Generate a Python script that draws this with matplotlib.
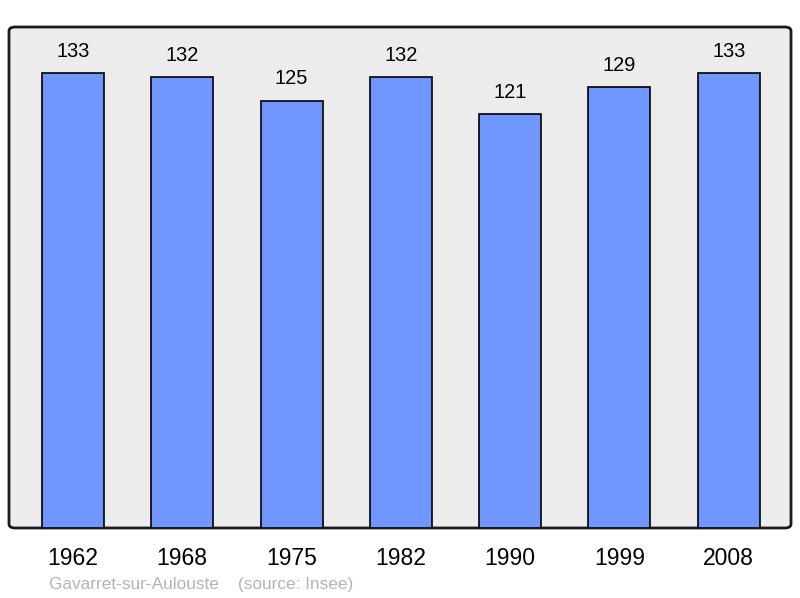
import matplotlib.pyplot as plt
from matplotlib.patches import FancyBboxPatch

years = ['1962', '1968', '1975', '1982', '1990', '1999', '2008']
population = [133, 132, 125, 132, 121, 129, 133]

plt.rcParams['font.family'] = ['Liberation Sans', 'DejaVu Sans']

fig = plt.figure(figsize=(8, 5.98), dpi=100)
ax = fig.add_axes([9 / 800, 70 / 598, 782 / 800, 501 / 598])
ax.set_facecolor('none')

# rounded frame behind the bars
frame = FancyBboxPatch((0, 0), 1, 1, boxstyle='round,pad=0,rounding_size=0.008',
                       transform=ax.transAxes, facecolor='#ececec',
                       edgecolor='#1a1a1a', linewidth=2, zorder=0, clip_on=False)
ax.add_patch(frame)

x = range(len(years))
ax.bar(x, population, width=0.567, color='#7096ff', edgecolor='black',
       linewidth=1.2, zorder=2)
for xi, v in zip(x, population):
    ax.text(xi, v + 6.4, str(v), ha='center', va='center', fontsize=14.4, zorder=3)

ax.set_xlim(-0.585, 6.57)
ax.set_ylim(0, 146.6)
for s in ax.spines.values():
    s.set_visible(False)
ax.set_yticks([])
ax.set_xticks(list(x))
ax.set_xticklabels(years, fontsize=16.5)
ax.tick_params(axis='x', length=0, pad=14)

fig.text(49 / 800, 1 - 584 / 598, 'Gavarret-sur-Aulouste    (source: Insee)',
         color='#b4b4b4', fontsize=12.4, ha='left', va='center')

fig.savefig('out.png', dpi=100)
